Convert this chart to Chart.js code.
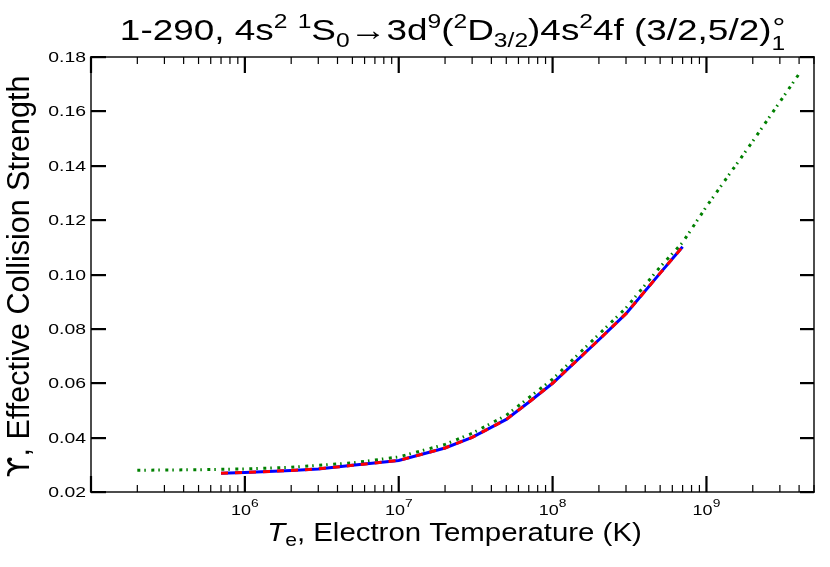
<!DOCTYPE html>
<html><head><meta charset="utf-8">
<script src="https://cdn.jsdelivr.net/npm/chart.js@4.4.0/dist/chart.umd.min.js"></script>
<style>html,body{margin:0;padding:0;background:#fff;}#wrap{width:830px;height:567px;position:relative;}</style>
</head><body><div id="wrap"><canvas id="c" width="830" height="567"></canvas></div>
<script>
// ---- data ----
const tempsGreen = [2e5, 5e5, 1e6, 2e6, 5e6, 1e7, 2e7, 3e7, 5e7, 1e8, 2e8, 3e8, 5e8, 7e8, 1e9, 2e9, 4e9];
const upsilonGreen = [0.0280, 0.0282, 0.0285, 0.0291, 0.0307, 0.0329, 0.0375, 0.0416, 0.0482, 0.0615, 0.0780, 0.0877, 0.1028, 0.1118, 0.1250, 0.1490, 0.1738];
const tempsCalc = [7e5, 1e6, 2e6, 3e6, 5e6, 1e7, 2e7, 3e7, 5e7, 7e7, 1e8, 2e8, 3e8, 5e8, 7e8];
const upsilonBlue = [0.0269, 0.0272, 0.0279, 0.0285, 0.0298, 0.0316, 0.0362, 0.0401, 0.0467, 0.0530, 0.0600, 0.0760, 0.0856, 0.1005, 0.1102];
const upsilonRed  = [0.0269, 0.0272, 0.0279, 0.0285, 0.0298, 0.0316, 0.0362, 0.0401, 0.0467, 0.0530, 0.0600, 0.0760, 0.0856, 0.1005, 0.1102];
const yTickValues = [0.02, 0.04, 0.06, 0.08, 0.10, 0.12, 0.14, 0.16, 0.18];
const yTickLabels = ['0.02', '0.04', '0.06', '0.08', '0.10', '0.12', '0.14', '0.16', '0.18'];
const xMajorValues = [1e6, 1e7, 1e8, 1e9];
const xTickBase = ['10', '10', '10', '10'];
const xTickExp = ['6', '7', '8', '9'];
const xMin = 1e5, xMax = 5e9, yMin = 0.02, yMax = 0.18;

const FONT = '"Liberation Sans", Arial, Helvetica, sans-serif';

function pts(xs, ys) { return xs.map((x, i) => ({ x: x, y: ys[i] })); }

function richWidth(ctx, segs, sx) {
  let w = 0;
  for (const s of segs) {
    ctx.font = (s.italic ? 'italic ' : '') + s.size + 'px ' + (s.font || FONT);
    if (!s.noAdv) w += ctx.measureText(s.t).width * sx;
  }
  return w;
}
function drawRich(ctx, segs, x, y, align, sx) {
  const w = richWidth(ctx, segs, sx);
  let cx = align === 'center' ? x - w / 2 : (align === 'right' ? x - w : x);
  ctx.textAlign = 'left';
  ctx.textBaseline = 'alphabetic';
  for (const s of segs) {
    ctx.font = (s.italic ? 'italic ' : '') + s.size + 'px ' + (s.font || FONT);
    ctx.save();
    ctx.translate(cx + (s.dx || 0), y + (s.dy || 0));
    ctx.scale(sx, 1);
    ctx.fillText(s.t, 0, 0);
    ctx.restore();
    if (!s.noAdv) cx += ctx.measureText(s.t).width * sx;
  }
}

const axesPlugin = {
  id: 'axesPlugin',
  afterDraw(chart) {
    const ctx = chart.ctx;
    const a = chart.chartArea;
    const L = a.left, R = a.right, Tp = a.top, B = a.bottom;
    const xs = chart.scales.x, ys = chart.scales.y;
    ctx.save();
    ctx.setLineDash([]);
    ctx.globalAlpha = 1;
    ctx.fillStyle = '#000';
    // frame
    const fw = 1.4;
    ctx.fillRect(L - fw / 2, Tp - fw / 2, R - L + fw, fw);
    ctx.fillRect(L - fw / 2, B - fw / 2, R - L + fw, fw);
    ctx.fillRect(L - fw / 2, Tp - fw / 2, fw, B - Tp + fw);
    ctx.fillRect(R - fw / 2, Tp - fw / 2, fw, B - Tp + fw);
    // y ticks
    yTickValues.forEach((v, i) => {
      const py = Math.round(ys.getPixelForValue(v));
      ctx.fillStyle = '#000';
      ctx.fillRect(L, py - 1, 15, 2.2);
      ctx.fillRect(R - 14, py - 1, 14, 2.2);
      drawRich(ctx, [{ t: yTickLabels[i], size: 15.5 }], L - 5, py + 4.5, 'right', 1.25);
    });
    // x ticks (log)
    for (let d = 5; d <= 9; d++) {
      for (let m = 1; m <= 9; m++) {
        const v = m * Math.pow(10, d);
        if (v < xMin || v > xMax) continue;
        const px = xs.getPixelForValue(v);
        const len = m === 1 ? 16 : 7;
        const w = m === 1 ? 2.2 : 1.2;
        ctx.fillRect(px - w / 2, B - len, w, len);
        ctx.fillRect(px - w / 2, Tp, w, len);
      }
    }
    xMajorValues.forEach((v, i) => {
      const px = xs.getPixelForValue(v);
      drawRich(ctx, [{ t: xTickBase[i], size: 15 }, { t: xTickExp[i], size: 11.5, dy: -8 }], px, B + 23, 'center', 1.2);
    });
    // title
    const T = 30, S = 20, up = -12, dn = 7;
    const title = [
      { t: '1-290, 4s', size: T }, { t: '2', size: S, dy: up }, { t: ' ', size: T },
      { t: '1', size: S, dy: up }, { t: 'S', size: T }, { t: '0', size: S, dy: dn },
      { t: '\u2192', size: T }, { t: '3d', size: T }, { t: '9', size: S, dy: up },
      { t: '(', size: T }, { t: '2', size: S, dy: up }, { t: 'D', size: T },
      { t: '3/2', size: S, dy: dn }, { t: ')4s', size: T }, { t: '2', size: S, dy: up },
      { t: '4f (3/2,5/2)', size: T },
      { t: '\u00B0', size: 26, dy: -4, noAdv: true, dx: 1 }, { t: '1', size: S, dy: dn + 3 }
    ];
    drawRich(ctx, title, (L + R) / 2, 40, 'center', 1.23);
    // x axis title
    drawRich(ctx, [
      { t: 'T', size: 26.5, italic: true }, { t: 'e', size: 19, dy: 5 },
      { t: ', Electron Temperature (K)', size: 26.5 }
    ], (L + R) / 2 + 2, 541, 'center', 1.11);
    // y axis title (rotated)
    ctx.save();
    ctx.translate(29, (Tp + B) / 2 + 2);
    ctx.rotate(-Math.PI / 2);
    drawRich(ctx, [
      { t: '\u03D2', size: 30, font: '"DejaVu Sans", ' + FONT },
      { t: ', Effective Collision Strength', size: 30.5 }
    ], 0, 0, 'center', 1.0);
    ctx.restore();
    ctx.restore();
  }
};

new Chart(document.getElementById('c'), {
  type: 'line',
  data: {
    datasets: [
      { label: 'red', data: pts(tempsCalc, upsilonRed), borderColor: '#ff0000', borderWidth: 3, borderDash: [7, 7], pointRadius: 0, fill: false, tension: 0, order: 0 },
      { label: 'blue', data: pts(tempsCalc, upsilonBlue), borderColor: '#0000ff', borderWidth: 3, pointRadius: 0, fill: false, tension: 0, order: 1 },
      { label: 'green', data: pts(tempsGreen, upsilonGreen), borderColor: '#008000', borderWidth: 3, borderDash: [3, 4, 1.5, 5.5], pointRadius: 0, fill: false, tension: 0, order: 2 }
    ]
  },
  options: {
    responsive: false,
    animation: false,
    events: [],
    layout: { padding: { left: 91, right: 16, top: 57, bottom: 75 } },
    scales: {
      x: { type: 'logarithmic', min: xMin, max: xMax, display: false },
      y: { type: 'linear', min: yMin, max: yMax, display: false }
    },
    plugins: { legend: { display: false }, tooltip: { enabled: false }, title: { display: false } }
  },
  plugins: [axesPlugin]
});
</script>
</body></html>
